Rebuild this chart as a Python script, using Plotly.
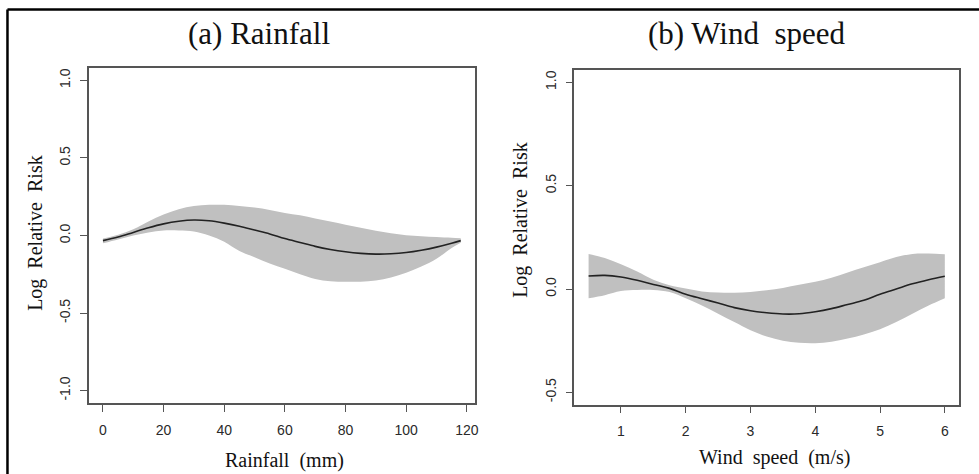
import plotly.graph_objects as go

W, H = 979, 474

# (a) Rainfall - estimated log relative risk with 95% band
rain_x = [0, 5, 10, 15, 20, 25, 30, 35, 40, 45, 50, 55, 60, 65, 70, 75, 80, 85, 90, 95, 100, 105, 110, 115, 118]
rain_fit = [-0.033, -0.01, 0.02, 0.05, 0.075, 0.092, 0.10, 0.095, 0.08, 0.06, 0.035, 0.01, -0.02, -0.045,
            -0.07, -0.09, -0.105, -0.115, -0.12, -0.118, -0.11, -0.095, -0.075, -0.05, -0.033]
rain_low = [-0.05, -0.025, 0.0, 0.02, 0.032, 0.032, 0.025, 0.0, -0.04, -0.10, -0.14, -0.18, -0.215, -0.25,
            -0.28, -0.295, -0.298, -0.298, -0.29, -0.27, -0.24, -0.20, -0.15, -0.08, -0.046]
rain_up = [-0.02, 0.005, 0.04, 0.09, 0.135, 0.17, 0.19, 0.198, 0.198, 0.19, 0.18, 0.165, 0.145, 0.13,
           0.11, 0.09, 0.07, 0.05, 0.03, 0.015, 0.002, -0.005, -0.01, -0.015, -0.018]

# (b) Wind speed
wind_x = [0.5, 0.75, 1.0, 1.25, 1.5, 1.75, 2.0, 2.25, 2.5, 2.75, 3.0, 3.25, 3.5, 3.75, 4.0, 4.25, 4.5,
          4.75, 5.0, 5.25, 5.5, 5.75, 6.0]
wind_fit = [0.063, 0.066, 0.058, 0.042, 0.022, 0.003, -0.025, -0.047, -0.068, -0.09, -0.105, -0.115,
            -0.121, -0.12, -0.11, -0.095, -0.075, -0.055, -0.025, 0.0, 0.025, 0.045, 0.062]
wind_low = [-0.045, -0.03, -0.01, -0.005, -0.005, -0.015, -0.045, -0.08, -0.12, -0.16, -0.20, -0.23,
            -0.25, -0.26, -0.262, -0.255, -0.24, -0.22, -0.195, -0.16, -0.12, -0.08, -0.045]
wind_up = [0.170, 0.150, 0.120, 0.085, 0.045, 0.018, 0.002, -0.012, -0.017, -0.018, -0.014, -0.006,
           0.005, 0.02, 0.035, 0.055, 0.08, 0.105, 0.13, 0.155, 0.17, 0.172, 0.168]

rain_ticks = [0, 20, 40, 60, 80, 100, 120]
wind_ticks = [1, 2, 3, 4, 5, 6]
rain_yticks = [-1.0, -0.5, 0.0, 0.5, 1.0]
wind_yticks = [-0.5, 0.0, 0.5, 1.0]

BAND = "#c0c0c0"
LINE = "#222222"
SERIF = "Liberation Serif, Times New Roman, serif"
SANS = "Liberation Sans, Arial, sans-serif"

fig = go.Figure()


def add_panel(x, low, up, fit, xa, ya):
    fig.add_trace(go.Scatter(x=x, y=low, mode="lines", line=dict(width=0, shape="spline", color=BAND),
                             xaxis=xa, yaxis=ya, showlegend=False, hoverinfo="skip"))
    fig.add_trace(go.Scatter(x=x, y=up, mode="lines", line=dict(width=0, shape="spline", color=BAND),
                             fill="tonexty", fillcolor=BAND, xaxis=xa, yaxis=ya, showlegend=False,
                             hoverinfo="skip"))
    fig.add_trace(go.Scatter(x=x, y=fit, mode="lines", line=dict(width=1.6, shape="spline", color=LINE),
                             xaxis=xa, yaxis=ya, showlegend=False))


add_panel(rain_x, rain_low, rain_up, rain_fit, "x", "y")
add_panel(wind_x, wind_low, wind_up, wind_fit, "x2", "y2")

axis_common = dict(showline=True, mirror=True, linecolor="#555555", linewidth=1.5, ticks="outside",
                   ticklen=7, tickcolor="#555555", tickwidth=1.2, showgrid=False, zeroline=False,
                   tickfont=dict(family=SANS, size=14, color="#2a2a2a"))

fig.update_layout(
    width=W, height=H,
    margin=dict(l=0, r=0, t=0, b=0),
    paper_bgcolor="white", plot_bgcolor="white",
    xaxis=dict(domain=[89 / W, 477 / W], range=[-4.72, 122.72], tickvals=rain_ticks,
               anchor="y", ticklabelstandoff=6, **axis_common),
    yaxis=dict(domain=[1 - 403 / H, 1 - 68 / H], range=[-1.08, 1.08], tickvals=rain_yticks,
               ticktext=[f"{v:.1f}" for v in rain_yticks], tickangle=-90, anchor="x",
               ticklabelstandoff=4, **axis_common),
    xaxis2=dict(domain=[576.7 / W, 963 / W], range=[0.28, 6.22], tickvals=wind_ticks,
                anchor="y2", ticklabelstandoff=6, **axis_common),
    yaxis2=dict(domain=[1 - 404.7 / H, 1 - 70 / H], range=[-0.56, 1.06], tickvals=wind_yticks,
                ticktext=[f"{v:.1f}" for v in wind_yticks], tickangle=-90, anchor="x2",
                ticklabelstandoff=4, **axis_common),
)


def label(text, px, py, size, angle=0):
    fig.add_annotation(text=text, x=px / W, y=1 - py / H, xref="paper", yref="paper",
                       showarrow=False, textangle=angle, xanchor="center", yanchor="middle",
                       font=dict(family=SERIF, size=size, color="#111111"))


label("(a) Rainfall", 260, 33, 31)
label("(b) Wind&nbsp; speed", 750, 33, 31)
label("Rainfall&nbsp; (mm)", 286, 460, 20)
label("Wind&nbsp; speed&nbsp; (m/s)", 778, 457, 20)
label("Log&nbsp; Relative&nbsp; Risk", 35, 233, 20, -90)
label("Log&nbsp; Relative&nbsp; Risk", 522, 220, 20, -90)

# outer frame (top and left edges visible)
fig.add_shape(type="line", xref="paper", yref="paper", x0=7.5 / W, x1=1.01, y0=1 - 9.5 / H, y1=1 - 9.5 / H,
              line=dict(color="black", width=2.5))
fig.add_shape(type="line", xref="paper", yref="paper", x0=7.5 / W, x1=7.5 / W, y0=-0.01, y1=1 - 9.5 / H,
              line=dict(color="black", width=2.5))

# drop the default page margin so the figure sits at the window's corner
fig.write_html("out.html", config={"displayModeBar": False},
               post_script="document.body.style.margin='0';")
